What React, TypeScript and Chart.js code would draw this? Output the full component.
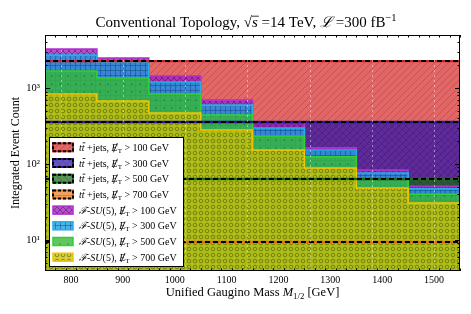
import React, { useEffect, useRef } from "react";
import { Chart, registerables } from "chart.js";

Chart.register(...registerables);

// ---------------- data ----------------
const massBins = [800, 900, 1000, 1100, 1200, 1300, 1400, 1500];
const binWidth = 100;
const metCuts = [100, 300, 500, 700];
const ttbarCounts = [2265, 357, 63.5, 9.4];
const fsu5Met100 = [3260, 2480, 1440, 695, 357, 163, 83, 51];
const fsu5Met300 = [2720, 2200, 1200, 597, 298, 153, 76, 47];
const fsu5Met500 = [1675, 1355, 834, 441, 234, 124, 63.5, 40];
const fsu5Met700 = [834, 675, 469, 280, 153, 88.5, 48.3, 30.7];
const xTickValues = [800, 900, 1000, 1100, 1200, 1300, 1400, 1500];
const yTickValues = [10, 100, 1000];
const yTickLabels = ["10¹", "10²", "10³"];
const gridValues = [780, 900, 1020, 1140, 1260, 1380, 1500];
const xLimits = [750, 1550];
const yLimits = [3.9, 5000];

const fsu5Series = [fsu5Met100, fsu5Met300, fsu5Met500, fsu5Met700];

// ---------------- styles ----------------
const SERIF = '"Liberation Serif", "DejaVu Serif", serif';

const ttbarStyles = [
  { base: "rgba(215,45,45,0.72)", hatch: "rgba(150,20,20,0.3)", kind: "/", line: "#c0282a", size: 7 },
  { base: "rgba(45,20,170,0.72)", hatch: "rgba(20,10,90,0.18)", kind: "x", line: "#2a1a9a", size: 7 },
  { base: "rgba(25,105,25,0.72)", hatch: "rgba(10,50,10,0.3)", kind: "\\", line: "#1e6e1e", size: 7 },
  { base: "rgba(235,125,35,0.72)", hatch: "rgba(140,60,10,0.3)", kind: "-", line: "#e0701e", size: 6 },
];
const sigStyles = [
  { base: "rgba(165,40,190,0.82)", hatch: "rgba(80,10,100,0.5)", kind: "x", line: "#b030d0", size: 6 },
  { base: "rgba(30,160,225,0.8)", hatch: "rgba(20,70,140,0.5)", kind: "+", line: "#20b0e8", size: 5 },
  { base: "rgba(55,185,55,0.8)", hatch: "rgba(20,80,20,0.5)", kind: ".", line: "#30d030", size: 8 },
  { base: "rgba(205,195,10,0.8)", hatch: "rgba(80,80,0,0.55)", kind: "o", line: "#f5c400", size: 6 },
];

function makePattern(base: string, hatch: string, kind: string, size: number): CanvasPattern | string {
  const c = document.createElement("canvas");
  c.width = size;
  c.height = size;
  const g = c.getContext("2d");
  if (!g) return base;
  g.fillStyle = base;
  g.fillRect(0, 0, size, size);
  g.strokeStyle = hatch;
  g.fillStyle = hatch;
  g.lineWidth = 1;
  g.beginPath();
  const diagF = () => {
    g.moveTo(0, size); g.lineTo(size, 0);
    g.moveTo(-1, 1); g.lineTo(1, -1);
    g.moveTo(size - 1, size + 1); g.lineTo(size + 1, size - 1);
  };
  const diagB = () => {
    g.moveTo(0, 0); g.lineTo(size, size);
    g.moveTo(-1, size - 1); g.lineTo(1, size + 1);
    g.moveTo(size - 1, -1); g.lineTo(size + 1, 1);
  };
  if (kind === "/") diagF();
  else if (kind === "\\") diagB();
  else if (kind === "x") { diagF(); diagB(); }
  else if (kind === "+") { g.moveTo(0, 0.5); g.lineTo(size, 0.5); g.moveTo(0.5, 0); g.lineTo(0.5, size); }
  else if (kind === "-") { g.moveTo(0, size / 2 + 0.5); g.lineTo(size, size / 2 + 0.5); }
  else if (kind === "o") { g.arc(size / 2, size / 2, size / 2 - 1.2, 0, Math.PI * 2); }
  g.stroke();
  if (kind === ".") g.fillRect(size / 2 - 0.6, size / 2 - 0.6, 1.3, 1.3);
  return g.createPattern(c, "repeat") || base;
}

// ---------------- rich text ----------------
type Seg = { t: string; f: string; dy?: number; bar?: boolean; slash?: boolean; over?: boolean };

function drawRich(ctx: CanvasRenderingContext2D, segs: Seg[], x: number, y: number, align: "left" | "center", fs: number) {
  let total = 0;
  segs.forEach((s) => { ctx.font = s.f; total += ctx.measureText(s.t).width; });
  let cx = align === "center" ? x - total / 2 : x;
  ctx.textAlign = "left";
  ctx.textBaseline = "alphabetic";
  ctx.fillStyle = "#000";
  ctx.strokeStyle = "#000";
  segs.forEach((s) => {
    ctx.font = s.f;
    const w = ctx.measureText(s.t).width;
    const yy = y + (s.dy || 0);
    ctx.fillText(s.t, cx, yy);
    if (s.bar) {
      const wt = ctx.measureText("t").width;
      ctx.lineWidth = 0.8;
      ctx.beginPath();
      ctx.moveTo(cx + w - wt + 0.8, yy - fs * 0.8);
      ctx.lineTo(cx + w + 0.8, yy - fs * 0.8);
      ctx.stroke();
    }
    if (s.over) {
      ctx.lineWidth = 0.8;
      ctx.beginPath();
      ctx.moveTo(cx, yy - fs * 0.72);
      ctx.lineTo(cx + w + 1, yy - fs * 0.72);
      ctx.stroke();
    }
    if (s.slash) {
      ctx.lineWidth = 0.8;
      ctx.beginPath();
      ctx.moveTo(cx + w * 0.3, yy + 1.5);
      ctx.lineTo(cx + w * 0.95, yy - fs * 0.78);
      ctx.stroke();
    }
    cx += w;
  });
}

function ttbarSegs(cut: number, fs: number): Seg[] {
  return [
    { t: "tt", f: `italic ${fs}px ${SERIF}`, bar: true },
    { t: " +jets, ", f: `${fs}px ${SERIF}` },
    { t: "E", f: `italic ${fs}px ${SERIF}`, slash: true },
    { t: "T", f: `${fs * 0.7}px ${SERIF}`, dy: 2 },
    { t: ` > ${cut} GeV`, f: `${fs}px ${SERIF}` },
  ];
}
function sigSegs(cut: number, fs: number): Seg[] {
  return [
    { t: "ℱ", f: `italic ${fs}px ${SERIF}` },
    { t: "-", f: `${fs}px ${SERIF}` },
    { t: "SU", f: `italic ${fs}px ${SERIF}` },
    { t: "(5), ", f: `${fs}px ${SERIF}` },
    { t: "E", f: `italic ${fs}px ${SERIF}`, slash: true },
    { t: "T", f: `${fs * 0.7}px ${SERIF}`, dy: 2 },
    { t: ` > ${cut} GeV`, f: `${fs}px ${SERIF}` },
  ];
}

export default function App() {
  const ref = useRef<HTMLCanvasElement | null>(null);

  useEffect(() => {
    document.body.style.margin = "0";
    const canvas = ref.current;
    if (!canvas) return;

    const edges = massBins.map((m) => m - binWidth / 2).concat([massBins[massBins.length - 1] + binWidth / 2]);
    const histPoints = (vals: number[]) => edges.map((x, i) => ({ x, y: vals[Math.min(i, vals.length - 1)] }));
    const flatPoints = (v: number) => [{ x: edges[0], y: v }, { x: edges[edges.length - 1], y: v }];

    const ttbarPatterns = ttbarStyles.map((s) => makePattern(s.base, s.hatch, s.kind, s.size));
    const sigPatterns = sigStyles.map((s) => makePattern(s.base, s.hatch, s.kind, s.size));

    const datasets: any[] = [];
    ttbarCounts.forEach((v, i) => {
      datasets.push({
        label: `ttbar fill ${metCuts[i]}`,
        data: flatPoints(v),
        fill: "start",
        backgroundColor: ttbarPatterns[i],
        borderWidth: 0,
        pointRadius: 0,
        order: 20 - i,
      });
    });
    fsu5Series.forEach((vals, i) => {
      datasets.push({
        label: `fsu5 ${metCuts[i]}`,
        data: histPoints(vals),
        stepped: "before",
        fill: "start",
        backgroundColor: sigPatterns[i],
        borderColor: sigStyles[i].line,
        borderWidth: 1.6,
        pointRadius: 0,
        order: 10 - i,
      });
    });
    ttbarCounts.forEach((v, i) => {
      datasets.push({
        label: `ttbar line ${metCuts[i]}`,
        data: flatPoints(v),
        fill: false,
        borderColor: ttbarStyles[i].line,
        borderWidth: 2.4,
        pointRadius: 0,
        order: 2,
      });
      datasets.push({
        label: `ttbar dash ${metCuts[i]}`,
        data: flatPoints(v),
        fill: false,
        borderColor: "#000",
        borderDash: [5, 3],
        borderWidth: 2,
        pointRadius: 0,
        order: 1,
      });
    });

    const decor = {
      id: "decor",
      afterDatasetsDraw(chart: any) {
        const { ctx, chartArea: a, scales } = chart;
        const xs = scales.x;
        ctx.save();
        ctx.beginPath();
        ctx.rect(a.left, a.top, a.right - a.left, a.bottom - a.top);
        ctx.clip();
        ctx.strokeStyle = "rgba(255,255,255,0.45)";
        ctx.lineWidth = 1;
        ctx.setLineDash([2, 3]);
        gridValues.forEach((v) => {
          const px = Math.round(xs.getPixelForValue(v)) + 0.5;
          ctx.beginPath();
          ctx.moveTo(px, a.top);
          ctx.lineTo(px, a.bottom);
          ctx.stroke();
        });
        ctx.restore();
      },
      afterDraw(chart: any) {
        const { ctx, chartArea: a, scales } = chart;
        const xs = scales.x;
        const ys = scales.y;
        ctx.save();
        // frame
        ctx.strokeStyle = "#000";
        ctx.lineWidth = 1;
        ctx.setLineDash([]);
        ctx.strokeRect(a.left + 0.5, a.top + 0.5, a.right - a.left - 1, a.bottom - a.top - 1);
        // x ticks
        ctx.beginPath();
        for (let v = xLimits[0]; v <= xLimits[1]; v += 20) {
          const px = Math.round(xs.getPixelForValue(v)) + 0.5;
          const major = xTickValues.includes(v);
          const len = major ? 5 : 2.5;
          ctx.moveTo(px, a.bottom); ctx.lineTo(px, a.bottom - len);
          ctx.moveTo(px, a.top); ctx.lineTo(px, a.top + len);
        }
        // y ticks
        for (let d = 0; d <= 4; d++) {
          for (let m = 1; m <= 9; m++) {
            const v = m * Math.pow(10, d);
            if (v < yLimits[0] || v > yLimits[1]) continue;
            const py = Math.round(ys.getPixelForValue(v)) + 0.5;
            const len = m === 1 ? 5 : 2.5;
            ctx.moveTo(a.left, py); ctx.lineTo(a.left + len, py);
            ctx.moveTo(a.right, py); ctx.lineTo(a.right - len, py);
          }
        }
        ctx.stroke();

        // legend
        const lx = 49, ly = 137, lw = 134, lh = 129;
        ctx.fillStyle = "#fff";
        ctx.fillRect(lx, ly, lw, lh);
        ctx.strokeStyle = "#000";
        ctx.lineWidth = 1;
        ctx.strokeRect(lx + 0.5, ly + 0.5, lw, lh);
        const fs = 10;
        const rowGap = 15.7;
        for (let i = 0; i < 8; i++) {
          const cy = ly + 10.3 + i * rowGap;
          const sx = lx + 4, sw = 20, sh = 8;
          const isT = i < 4;
          const k = i % 4;
          ctx.fillStyle = isT ? ttbarPatterns[k] : sigPatterns[k];
          ctx.fillRect(sx, cy - sh / 2, sw, sh);
          if (isT) {
            ctx.setLineDash([]);
            ctx.strokeStyle = ttbarStyles[k].line;
            ctx.lineWidth = 2;
            ctx.strokeRect(sx, cy - sh / 2, sw, sh);
            ctx.setLineDash([3, 2]);
            ctx.strokeStyle = "#000";
            ctx.strokeRect(sx, cy - sh / 2, sw, sh);
            ctx.setLineDash([]);
          } else {
            ctx.strokeStyle = sigStyles[k].line;
            ctx.lineWidth = 1.5;
            ctx.strokeRect(sx, cy - sh / 2, sw, sh);
          }
          const segs = isT ? ttbarSegs(metCuts[k], fs) : sigSegs(metCuts[k], fs);
          drawRich(ctx, segs, lx + 30, cy + 3.5, "left", fs);
        }

        // title
        const tfs = 15;
        drawRich(ctx, [
          { t: "Conventional Topology, ", f: `${tfs}px ${SERIF}` },
          { t: "√", f: `${tfs}px ${SERIF}` },
          { t: "s", f: `italic ${tfs}px ${SERIF}`, over: true },
          { t: " =14 TeV, ", f: `${tfs}px ${SERIF}` },
          { t: "ℒ", f: `italic ${tfs}px ${SERIF}` },
          { t: " =300 fB", f: `${tfs}px ${SERIF}` },
          { t: "−1", f: `${tfs * 0.7}px ${SERIF}`, dy: -6 },
        ], 246, 27, "center", tfs);

        // x title
        const xfs = 12.5;
        drawRich(ctx, [
          { t: "Unified Gaugino Mass ", f: `${xfs}px ${SERIF}` },
          { t: "M", f: `italic ${xfs}px ${SERIF}` },
          { t: "1/2", f: `${xfs * 0.7}px ${SERIF}`, dy: 3 },
          { t: " [GeV]", f: `${xfs}px ${SERIF}` },
        ], (a.left + a.right) / 2, 296, "center", xfs);

        // y title
        ctx.save();
        ctx.translate(16, (a.top + a.bottom) / 2);
        ctx.rotate(-Math.PI / 2);
        ctx.font = `12px ${SERIF}`;
        ctx.fillStyle = "#000";
        ctx.textAlign = "center";
        ctx.textBaseline = "middle";
        ctx.fillText("Integrated Event Count", 0, 0);
        ctx.restore();

        ctx.restore();
      },
    };

    const chart = new Chart(canvas, {
      type: "line",
      data: { datasets },
      options: {
        animation: false,
        responsive: false,
        maintainAspectRatio: false,
        devicePixelRatio: 1,
        layout: { padding: { top: 35, right: 11, left: 0, bottom: 0 } },
        plugins: { legend: { display: false }, tooltip: { enabled: false }, title: { display: false } },
        elements: { line: { tension: 0 } },
        scales: {
          x: {
            type: "linear",
            min: xLimits[0],
            max: xLimits[1],
            grid: { display: false, drawTicks: false },
            border: { display: false },
            afterBuildTicks: (scale: any) => { scale.ticks = xTickValues.map((v) => ({ value: v })); },
            afterFit: (scale: any) => { scale.height = 43; },
            ticks: { color: "#000", font: { family: SERIF, size: 10 }, padding: 3, maxRotation: 0, autoSkip: false, callback: (v: any) => String(v) },
          },
          y: {
            type: "logarithmic",
            min: yLimits[0],
            max: yLimits[1],
            grid: { display: false, drawTicks: false },
            border: { display: false },
            afterBuildTicks: (scale: any) => { scale.ticks = yTickValues.map((v) => ({ value: v })); },
            afterFit: (scale: any) => { scale.width = 45; },
            ticks: {
              color: "#000",
              font: { family: SERIF, size: 10.5 },
              padding: 5,
              autoSkip: false,
              callback: (v: any) => {
                const idx = yTickValues.indexOf(Number(v));
                return idx >= 0 ? yTickLabels[idx] : "";
              },
            },
          },
        },
      },
      plugins: [decor],
    });

    return () => chart.destroy();
  }, []);

  return (
    <div style={{ width: 471, height: 314 }}>
      <canvas ref={ref} width={471} height={314} style={{ display: "block" }} />
    </div>
  );
}
